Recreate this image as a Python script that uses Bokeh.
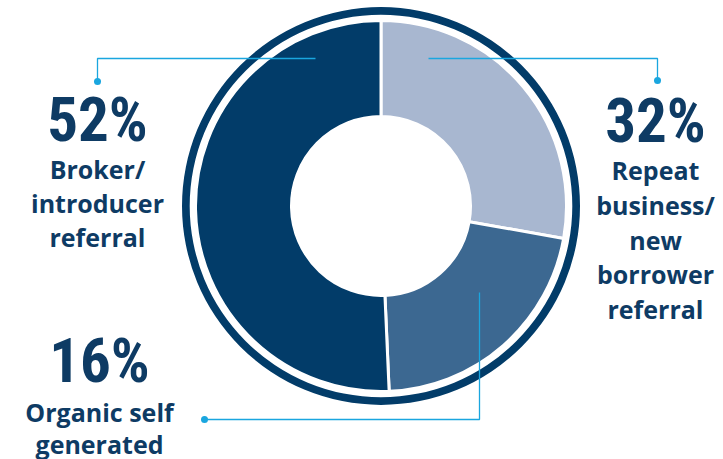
import math
from bokeh.plotting import figure
from bokeh.models import Range1d, ColumnDataSource
from bokeh.core.properties import value
from bokeh.embed import file_html
from bokeh.resources import INLINE

# ---- data (clockwise from 12 o'clock) ----
categories = ["Repeat business/new borrower referral", "Organic self generated", "Broker/introducer referral"]
label_pct = [32, 16, 52]
drawn_share = [27.8, 21.5, 50.7]          # slice sizes as drawn in the picture (%)
slice_colors = ["#a8b7d0", "#3c6891", "#023c69"]
label_lines = [["Repeat", "business/", "new", "borrower", "referral"],
               ["Organic self", "generated"],
               ["Broker/", "introducer", "referral"]]

W, H = 723, 459
NAVY = "#023c69"
TEXT = "#0e3b64"
LEAD = "#1aa6df"

p = figure(width=W, height=H, output_backend="svg", toolbar_location=None,
           x_range=Range1d(0, W), y_range=Range1d(0, H), min_border=0)
p.axis.visible = False
p.grid.visible = False
p.outline_line_color = None
p.background_fill_color = "white"

def Y(y):
    return H - y

cx, cy = 380.5, Y(205.5)

# outer ring
p.annulus(x=[cx], y=[cy], inner_radius=191.3, outer_radius=199, fill_color=NAVY, line_color=None)

# slices
total = sum(drawn_share)
starts, ends = [], []
acc = 0.0
for s in drawn_share:
    a0 = acc / total * 2 * math.pi
    acc += s
    a1 = acc / total * 2 * math.pi
    starts.append(math.pi / 2 - a1)
    ends.append(math.pi / 2 - a0)
src = ColumnDataSource(dict(start=starts, end=ends, color=slice_colors, cat=categories))
p.annular_wedge(x=cx, y=cy, inner_radius=89.5, outer_radius=185.5, start_angle="start", end_angle="end",
                fill_color="color", line_color="white", line_width=3, source=src)

# leader lines
lead_x = [[315, 97, 97], [428, 657, 657], [479, 479, 204]]
lead_y = [[Y(58), Y(58), Y(81)], [Y(58), Y(58), Y(80)], [Y(292), Y(419), Y(419)]]
p.multi_line(xs=lead_x, ys=lead_y, line_color=LEAD, line_width=1.3)
p.scatter(x=[97, 657, 204], y=[Y(81), Y(80), Y(419)], size=7, marker="circle", fill_color=LEAD, line_color=None)

# percentage labels (y = vertical centre of the figures)
pct_x = [655, 99, 97]
pct_mid = [120, 360.5, 119.5]
p.text(x=pct_x, y=[Y(m) for m in pct_mid], text=[f"{v}%" for v in label_pct],
       text_font=value("Roboto Condensed, DejaVu Sans Condensed, sans-serif"), text_font_style="bold",
       text_font_size="61px", text_color=TEXT, text_align="center", text_baseline="middle")

# category labels (y = centre of capitals)
line_mid = [169.5, 411.5, 168.5]
spacing = [34.8, 31.5, 34]
tx, ty, tt = [], [], []
for i, lines in enumerate(label_lines):
    for j, ln in enumerate(lines):
        tx.append(pct_x[i])
        ty.append(Y(line_mid[i] + j * spacing[i]))
        tt.append(ln)
p.text(x=tx, y=ty, text=tt, text_font=value("Open Sans"), text_font_style="bold", text_font_size="25px",
       text_color=TEXT, text_align="center", text_baseline="middle")

open("out.html", "w").write(file_html(p, INLINE))
